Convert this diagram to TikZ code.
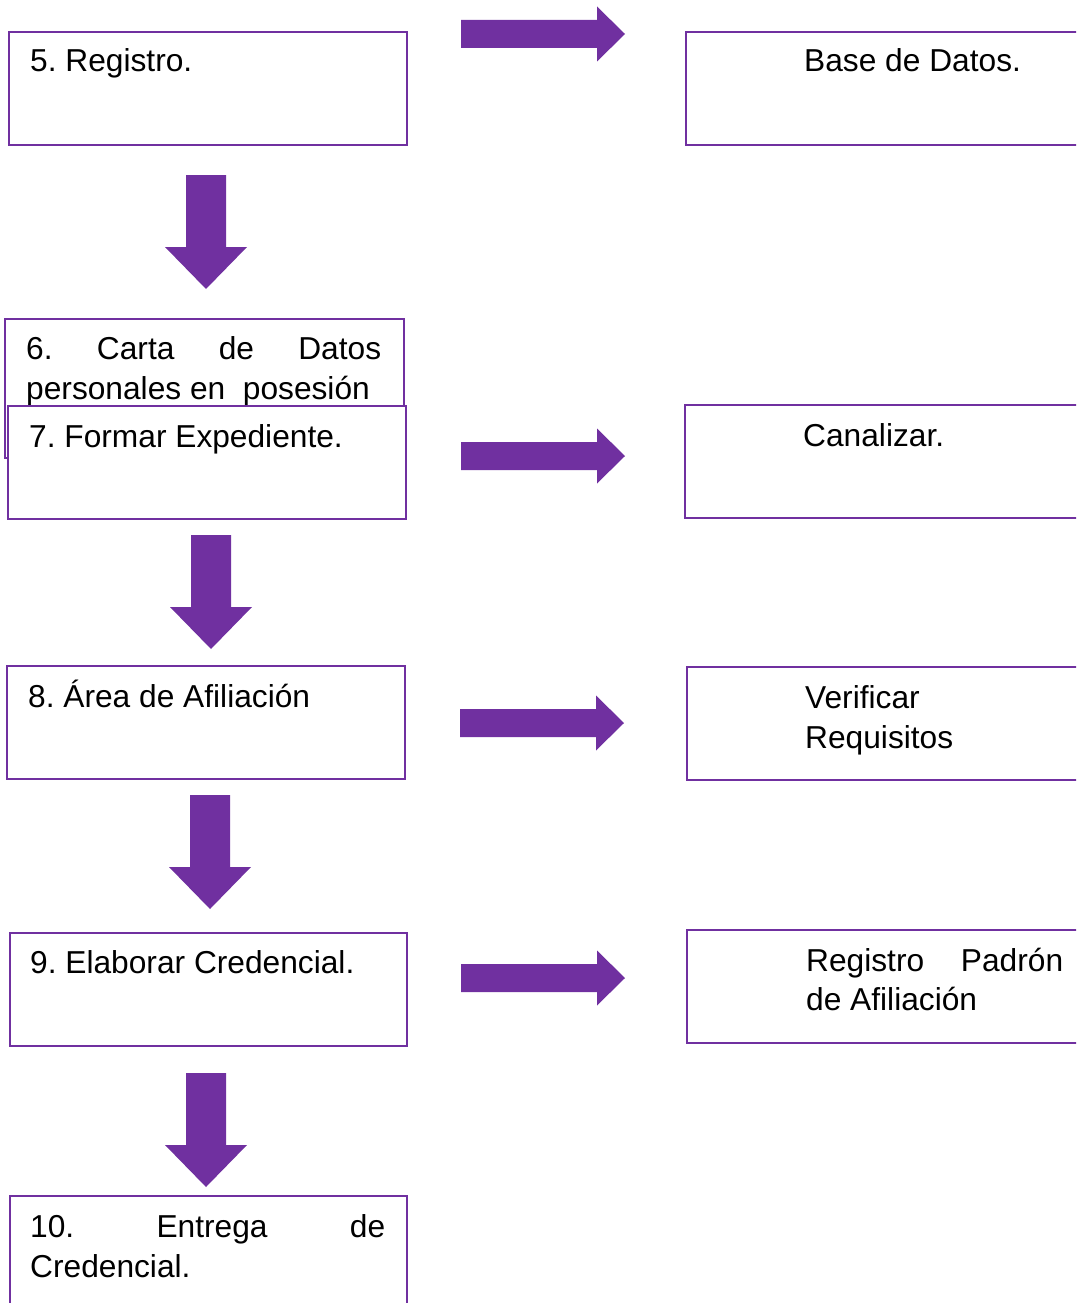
\documentclass[tikz,border=0pt]{standalone}
\usepackage{fontspec}
\setmainfont{Liberation Sans}
\definecolor{violeta}{HTML}{7030A0}
\frenchspacing
\begin{document}
\begin{tikzpicture}[x=1pt,y=-1pt,
  caja/.style={draw=violeta, line width=2.8pt, fill=white, rectangle,
    anchor=north west, inner sep=0pt, outer sep=0pt},
  flecha/.style={fill=violeta, draw=none},
  texto/.style={anchor=base west, inner sep=0pt,
    font=\fontsize{31.7}{40}\selectfont}]
\useasboundingbox (0,0) rectangle (1076,1303);
\clip (0,0) rectangle (1076,1303);

% left column of steps
\node[caja, minimum width=398pt, minimum height=113pt] (b5) at (9,32) {};
\node[texto] (t5) at (30,72) {5. Registro.};

\node[caja, minimum width=399pt, minimum height=139pt] (b6) at (5,319) {};
\node[texto] (t6a) at (26,359) {\hbox to 355pt{6.\hfil Carta\hfil de\hfil Datos}};
\node[texto] (t6b) at (26,399) {personales en\ \ posesión};

\node[caja, minimum width=398pt, minimum height=113pt] (b7) at (8,406) {};
\node[texto] (t7) at (29,447) {7. Formar Expediente.};

\node[caja, minimum width=398pt, minimum height=113pt] (b8) at (7,666) {};
\node[texto] (t8) at (28,707) {8. Área de Afiliación};

\node[caja, minimum width=397pt, minimum height=113pt] (b9) at (10,933) {};
\node[texto] (t9) at (30,973) {9. Elaborar Credencial.};

\node[caja, minimum width=397pt, minimum height=140pt] (b10) at (10,1196) {};
\node[texto] (t10a) at (30,1237) {\hbox to 355pt{10.\hfil Entrega\hfil de}};
\node[texto] (t10b) at (30,1277) {Credencial.};

% right column of results
\node[caja, minimum width=420pt, minimum height=113pt] (bd) at (686,32) {};
\node[texto] (tbd) at (804,72) {Base de Datos.};

\node[caja, minimum width=420pt, minimum height=113pt] (can) at (685,405) {};
\node[texto] (tcan) at (803,446) {Canalizar.};

\node[caja, minimum width=420pt, minimum height=113pt] (ver) at (687,667) {};
\node[texto] (tvera) at (805,708) {Verificar};
\node[texto] (tverb) at (805,748) {Requisitos};

\node[caja, minimum width=420pt, minimum height=113pt] (pad) at (687,930) {};
\node[texto] (tpada) at (806,971) {\hbox to 257pt{Registro\hfil Padrón}};
\node[texto] (tpadb) at (806,1010) {de Afiliación};

% block arrows pointing right
\foreach \x/\y in {461/34, 461/456, 460/723, 461/978}
  \fill[flecha] (\x,\y-14) -- (\x+136,\y-14) -- (\x+136,\y-27.5) -- (\x+164,\y)
    -- (\x+136,\y+27.5) -- (\x+136,\y+14) -- (\x,\y+14) -- cycle;

% block arrows pointing down
\foreach \x/\y in {206/175, 211/535, 210/795, 206/1073}
  \fill[flecha] (\x-20,\y) -- (\x+20,\y) -- (\x+20,\y+72) -- (\x+41,\y+72)
    -- (\x,\y+114) -- (\x-41,\y+72) -- (\x-20,\y+72) -- cycle;
\end{tikzpicture}
\end{document}
